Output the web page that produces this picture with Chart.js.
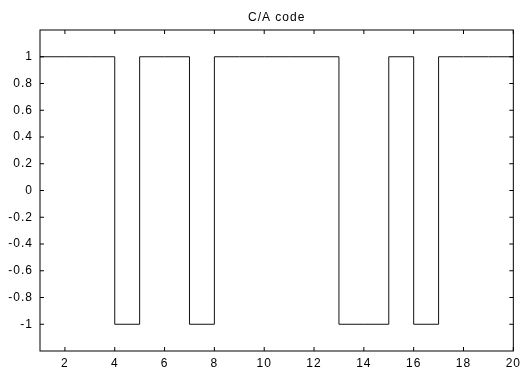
<!DOCTYPE html>
<html>
<head>
<meta charset="utf-8">
<script src="https://cdn.jsdelivr.net/npm/chart.js@4/dist/chart.umd.min.js"></script>
<style>
  html, body { margin: 0; padding: 0; background: #fff; }
  #wrap { width: 526px; height: 369px; position: relative; }
</style>
</head>
<body>
<div id="wrap"><canvas id="c"></canvas></div>
<script>
// C/A code chips: value held from each chip index until the next one
const chartTitle = 'C/A code';
const chipIndex  = [1, 2, 3, 4, 5, 6, 7, 8, 9, 10, 11, 12, 13, 14, 15, 16, 17, 18, 19, 20];
const chipValues = [1, 1, 1, -1, 1, 1, -1, 1, 1, 1, 1, 1, -1, -1, 1, -1, 1, 1, 1, 1];

// Axis ticks
const xTicks = [2, 4, 6, 8, 10, 12, 14, 16, 18, 20];
const yTicks = [-1, -0.8, -0.6, -0.4, -0.2, 0, 0.2, 0.4, 0.6, 0.8, 1];
const yTickLabels = ['-1', '-0.8', '-0.6', '-0.4', '-0.2', '0', '0.2', '0.4', '0.6', '0.8', '1'];

const FONT_FAMILY = '"Liberation Sans", Arial, Helvetica, sans-serif';
const TICK_LEN = 4;

Chart.defaults.font.family = FONT_FAMILY;
Chart.defaults.font.size = 12;
Chart.defaults.color = '#000';

// Slightly spaced lettering for all canvas text
const spacing = {
  id: 'spacing',
  beforeLayout(chart) { chart.ctx.letterSpacing = '1px'; },
  beforeDraw(chart) { chart.ctx.letterSpacing = '1px'; }
};

// Box frame with inward tick marks on all four sides, plus the title
const frameAndTicks = {
  id: 'frameAndTicks',
  afterDatasetsDraw(chart) {
    const { ctx, chartArea: a, scales: { x, y } } = chart;
    ctx.save();
    ctx.strokeStyle = '#000';
    ctx.lineWidth = 1;
    ctx.strokeRect(a.left, a.top, a.right - a.left, a.bottom - a.top);
    ctx.beginPath();
    xTicks.forEach(v => {
      const px = x.getPixelForValue(v);
      ctx.moveTo(px, a.bottom); ctx.lineTo(px, a.bottom - TICK_LEN);
      ctx.moveTo(px, a.top);    ctx.lineTo(px, a.top + TICK_LEN);
    });
    yTicks.forEach(v => {
      const py = y.getPixelForValue(v);
      ctx.moveTo(a.left, py);  ctx.lineTo(a.left + TICK_LEN, py);
      ctx.moveTo(a.right, py); ctx.lineTo(a.right - TICK_LEN, py);
    });
    ctx.stroke();

    ctx.fillStyle = '#000';
    ctx.font = '12px ' + FONT_FAMILY;
    ctx.letterSpacing = '1px';
    ctx.textAlign = 'center';
    ctx.textBaseline = 'alphabetic';
    ctx.fillText(chartTitle, (a.left + a.right) / 2, 21);
    ctx.restore();
  }
};

new Chart(document.getElementById('c'), {
  type: 'line',
  data: {
    datasets: [{
      data: chipIndex.map((v, i) => ({ x: v, y: chipValues[i] })),
      stepped: true,
      borderColor: '#111',
      borderWidth: 1,
      pointRadius: 0,
      fill: false,
      tension: 0
    }]
  },
  options: {
    responsive: true,
    maintainAspectRatio: false,
    animation: false,
    layout: { padding: { top: 30, right: 11, bottom: 0, left: 0 } },
    plugins: {
      legend: { display: false },
      title: { display: false },
      tooltip: { enabled: false }
    },
    scales: {
      x: {
        type: 'linear',
        min: 1,
        max: 20,
        afterBuildTicks: s => { s.ticks = xTicks.map(v => ({ value: v })); },
        afterFit: s => { s.height = 18; },
        grid: { display: false, drawTicks: false },
        border: { display: false },
        ticks: { padding: 5, maxRotation: 0, autoSkip: false, callback: v => String(v) }
      },
      y: {
        type: 'linear',
        min: -1.2,
        max: 1.2,
        afterBuildTicks: s => { s.ticks = yTicks.map(v => ({ value: v })); },
        afterFit: s => { s.width = 40; },
        grid: { display: false, drawTicks: false },
        border: { display: false },
        ticks: {
          padding: 7,
          autoSkip: false,
          callback: v => {
            const i = yTicks.findIndex(t => Math.abs(t - v) < 1e-9);
            return i >= 0 ? yTickLabels[i] : '';
          }
        }
      }
    }
  },
  plugins: [spacing, frameAndTicks]
});
</script>
</body>
</html>
